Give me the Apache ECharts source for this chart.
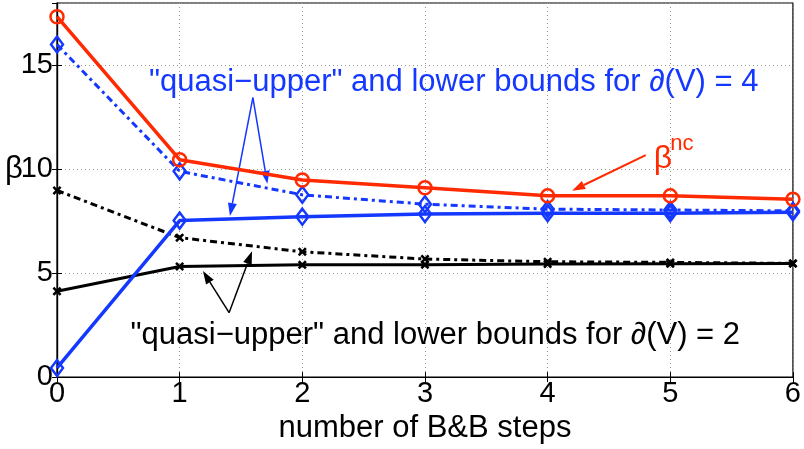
<!DOCTYPE html>
<html><head><meta charset="utf-8">
<script src="https://cdn.jsdelivr.net/npm/echarts@6/dist/echarts.min.js"></script>
<style>html,body{margin:0;padding:0;background:#fff}#c{width:804px;height:449px}</style>
</head><body><div id="c"></div>
<script>
const steps = [0, 1, 2, 3, 4, 5, 6];
const betaNC = [17.34, 10.46, 9.48, 9.11, 8.72, 8.72, 8.56];
const quasiUpper4 = [16.0, 9.9, 8.77, 8.32, 8.08, 8.04, 8.0];
const lower4 = [0.44, 7.53, 7.72, 7.85, 7.88, 7.88, 7.93];
const quasiUpper2 = [8.98, 6.71, 6.03, 5.68, 5.55, 5.52, 5.47];
const lower2 = [4.13, 5.32, 5.40, 5.41, 5.44, 5.45, 5.46];
const yTicks = [0, 5, 10, 15];

const RED = '#ff2a00', BLUE = '#1438ff', BLACK = '#000';
const FONT = '"Liberation Sans", Arial, sans-serif';
const FS = 31, TFS = 29;
const pairs = v => steps.map((s, i) => [s, v[i]]);
const ast = 'path://M0,2L2,0L5,3L8,0L10,2L7,5L10,8L8,10L5,7L2,10L0,8L3,5Z';

const chart = echarts.init(document.getElementById('c'));
const axisCommon = {
  axisLine: {show: true, lineStyle: {color: '#000', width: 1.2}},
  axisTick: {show: true, inside: true, length: 5, lineStyle: {color: '#000'}},
};
chart.setOption({
  animation: false,
  backgroundColor: '#fff',
  grid: {left: 57, right: 7, top: 3, bottom: 67, show: true, borderColor: '#000', borderWidth: 1.2},
  xAxis: [{
    type: 'value', min: 0, max: 6, interval: 1, ...axisCommon,
    axisLabel: {fontSize: TFS, fontFamily: FONT, color: '#000', margin: 2},
    splitLine: {show: true, lineStyle: {type: [1, 3], color: '#999'}},
    name: 'number of B&B steps', nameLocation: 'middle', nameGap: 32,
    nameTextStyle: {fontSize: FS, fontFamily: FONT, color: '#000'}
  }, {
    type: 'value', min: 0, max: 6, interval: 1, position: 'top', ...axisCommon,
    axisLabel: {show: false}, splitLine: {show: false}
  }],
  yAxis: [{
    type: 'value', min: 0, max: 18, interval: 5, ...axisCommon,
    axisLabel: {fontSize: TFS, fontFamily: FONT, color: '#000', margin: 4, showMaxLabel: false,
      formatter: v => yTicks.includes(v) ? String(v) : ''},
    splitLine: {show: true, lineStyle: {type: [1, 3], color: '#999'}}
  }, {
    type: 'value', min: 0, max: 18, interval: 5, position: 'right', ...axisCommon,
    axisLabel: {show: false}, splitLine: {show: false}
  }],
  series: [
    {type: 'line', data: pairs(quasiUpper2), symbol: ast, symbolSize: 9,
      lineStyle: {color: BLACK, width: 3, type: [7, 4, 3, 4]}, itemStyle: {color: BLACK}},
    {type: 'line', data: pairs(lower2), symbol: ast, symbolSize: 9,
      lineStyle: {color: BLACK, width: 3}, itemStyle: {color: BLACK}},
    {type: 'line', data: pairs(quasiUpper4), symbol: 'diamond', symbolSize: [12, 16],
      lineStyle: {color: BLUE, width: 3, type: [7, 4, 3, 4]},
      itemStyle: {color: 'rgba(0,0,0,0)', borderColor: BLUE, borderWidth: 2.5}},
    {type: 'line', data: pairs(lower4), symbol: 'diamond', symbolSize: [12, 16],
      lineStyle: {color: BLUE, width: 3.5},
      itemStyle: {color: 'rgba(0,0,0,0)', borderColor: BLUE, borderWidth: 2.5}},
    {type: 'line', data: pairs(betaNC), symbol: 'circle', symbolSize: 13,
      lineStyle: {color: RED, width: 3.5},
      itemStyle: {color: 'rgba(0,0,0,0)', borderColor: RED, borderWidth: 2.5}}
  ]
});

function px(p) { return chart.convertToPixel({xAxisIndex: 0, yAxisIndex: 0}, p); }
function arrow(from, to, color, w) {
  const a = px(from), b = px(to);
  const dx = b[0] - a[0], dy = b[1] - a[1], L = Math.hypot(dx, dy);
  const ux = dx / L, uy = dy / L, hl = 13, hw = 4.5;
  const bx = b[0] - ux * hl, by = b[1] - uy * hl;
  return [
    {type: 'line', shape: {x1: a[0], y1: a[1], x2: bx, y2: by}, style: {stroke: color, lineWidth: w}},
    {type: 'polygon', shape: {points: [b, [bx - uy * hw, by + ux * hw], [bx + uy * hw, by - ux * hw]]},
      style: {fill: color}}
  ];
}
const g = [].concat(
  arrow([1.597, 13.45], [1.41, 7.75], BLUE, 1.5),
  arrow([1.597, 13.45], [1.715, 9.3], BLUE, 1.5),
  arrow([1.403, 3.1], [1.19, 5.1], BLACK, 1.5),
  arrow([1.403, 3.1], [1.59, 6.05], BLACK, 1.5),
  arrow([4.80, 10.68], [4.2, 8.97], RED, 2)
);
const tl = px([0.75, 14.2]);
g.push({type: 'text', x: tl[0], y: tl[1], style: {text: '"quasi\u2212upper" and lower bounds for \u2202(V) = 4',
  fill: BLUE, font: FS + 'px ' + FONT, textVerticalAlign: 'middle'}});
const tl2 = px([0.6, 2.0]);
g.push({type: 'text', x: tl2[0], y: tl2[1], style: {text: '"quasi\u2212upper" and lower bounds for \u2202(V) = 2',
  fill: BLACK, font: FS + 'px ' + FONT, textVerticalAlign: 'middle'}});
const bp = px([4.865, 10.5]);
g.push({type: 'text', x: bp[0], y: bp[1], style: {text: '\u03b2', fill: RED, font: '32px ' + FONT, textVerticalAlign: 'middle'}});
const np = px([5.0, 11.2]);
g.push({type: 'text', x: np[0], y: np[1], style: {text: 'nc', fill: RED, font: '22px ' + FONT, textVerticalAlign: 'middle'}});
const yn = px([0, 10]);
g.push({type: 'text', x: 5, y: yn[1], style: {text: '\u03b2', fill: '#000', font: FS + 'px ' + FONT, textVerticalAlign: 'middle'}});
chart.setOption({graphic: g});
</script>
</body></html>
